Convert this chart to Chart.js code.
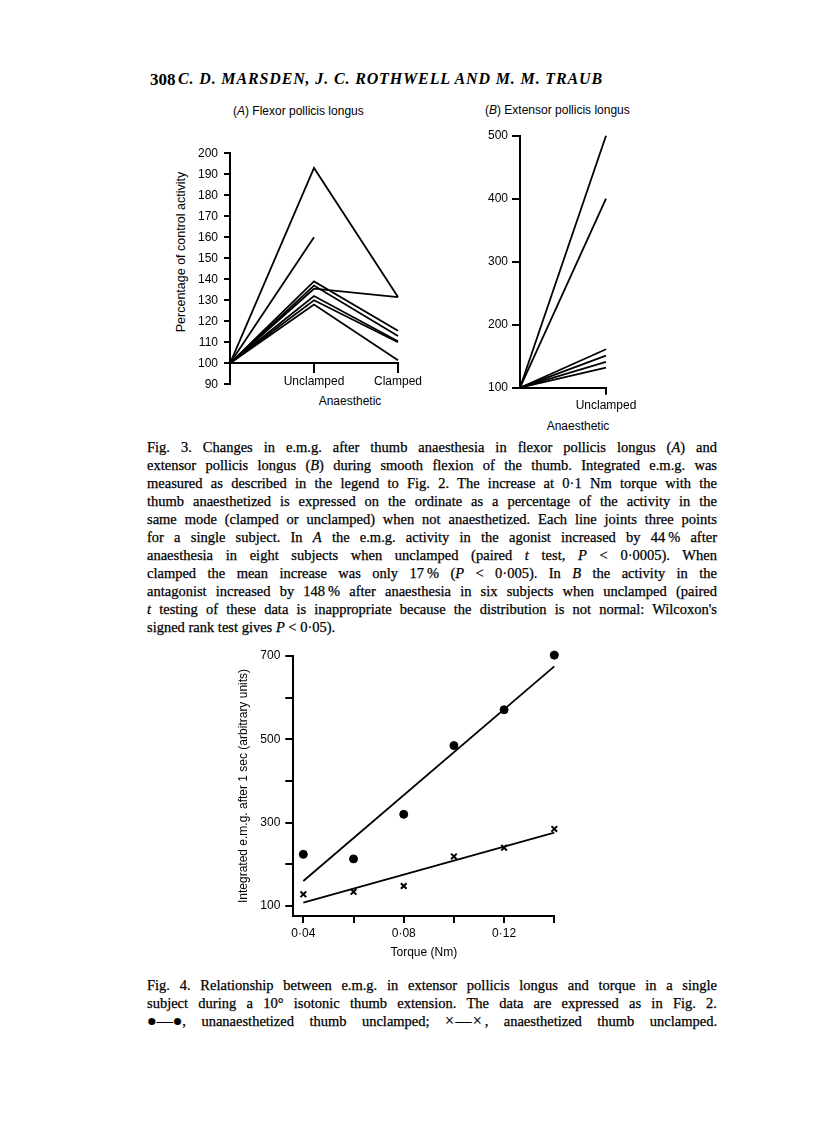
<!DOCTYPE html>
<html>
<head>
<meta charset="utf-8">
<script src="https://cdn.jsdelivr.net/npm/chart.js@4.4.1/dist/chart.umd.min.js"></script>
<style>
    body { margin: 0; width: 816px; height: 1127px; position: relative; overflow: hidden; background: #fff; color: #000; font-family: "Liberation Serif", serif; }
    canvas { position: absolute; }
    .sans { position: absolute; font-family: "Liberation Sans", Arial, sans-serif; font-size: 12px; line-height: 14px; white-space: nowrap; }
    .vlabel { transform: translate(-50%, -50%) rotate(-90deg); }
    .center { transform: translate(-50%, -50%); }
    .cap { position: absolute; left: 147px; width: 570px; font-size: 14.5px; line-height: 18px; -webkit-text-stroke: 0.25px #000; }
    .cap > span { display: inline-block; white-space: nowrap; }
    .sym { font-size: 16px; }
    .head { position: absolute; top: 70px; font-weight: bold; white-space: nowrap; }
</style>
</head>
<body>

<div class="head" style="left:150px; font-size:17px;">308</div>
<div class="head" id="authors" style="left:178px; font-size:16px; font-style:italic;">C. D. MARSDEN, J. C. ROTHWELL AND M. M. TRAUB</div>

<div class="sans" style="left:233px; top:104px;">(<i>A</i>) Flexor pollicis longus</div>
<div class="sans" style="left:485px; top:103px;">(<i>B</i>) Extensor pollicis longus</div>
<div class="sans vlabel" style="left:180.7px; top:251.7px; font-size:12.5px;">Percentage of control activity</div>
<div class="sans center" style="left:350px; top:401px;">Anaesthetic</div>
<div class="sans center" style="left:578px; top:426px;">Anaesthetic</div>

<canvas id="chartA" width="278" height="270" style="left:150px; top:140px;"></canvas>
<canvas id="chartB" width="200" height="300" style="left:450px; top:120px;"></canvas>
<canvas id="chartC" width="360" height="330" style="left:220px; top:640px;"></canvas>

<div class="cap" style="top:438px;">
    <span class="j">Fig. 3. Changes in e.m.g. after thumb anaesthesia in flexor pollicis longus (<i>A</i>) and</span><br>
    <span class="j">extensor pollicis longus (<i>B</i>) during smooth flexion of the thumb. Integrated e.m.g. was</span><br>
    <span class="j">measured as described in the legend to Fig. 2. The increase at 0·1 Nm torque with the</span><br>
    <span class="j">thumb anaesthetized is expressed on the ordinate as a percentage of the activity in the</span><br>
    <span class="j">same mode (clamped or unclamped) when not anaesthetized. Each line joints three points</span><br>
    <span class="j">for a single subject. In <i>A</i> the e.m.g. activity in the agonist increased by 44&#8201;% after</span><br>
    <span class="j">anaesthesia in eight subjects when unclamped (paired <i>t</i> test, <i>P</i> &lt; 0·0005). When</span><br>
    <span class="j">clamped the mean increase was only 17&#8201;% (<i>P</i> &lt; 0·005). In <i>B</i> the activity in the</span><br>
    <span class="j">antagonist increased by 148&#8201;% after anaesthesia in six subjects when unclamped (paired</span><br>
    <span class="j"><i>t</i> testing of these data is inappropriate because the distribution is not normal: Wilcoxon's</span><br>
    <span>signed rank test gives <i>P</i> &lt; 0·05).</span>
</div>

<div class="cap" style="top:976px;">
    <span class="j">Fig. 4. Relationship between e.m.g. in extensor pollicis longus and torque in a single</span><br>
    <span class="j">subject during a 10° isotonic thumb extension. The data are expressed as in Fig. 2.</span><br>
    <span class="j"><span class="sym">●—●</span>, unanaesthetized thumb unclamped; <span class="sym">×&#8202;—&#8202;×</span>&#8201;, anaesthetized thumb unclamped.</span>
</div>

<script>
// Fig. 3A - flexor pollicis longus, % of control
const controlLevel = 100;
const flexorCategories = ["", "Unclamped", "Clamped"];
const flexorUnclamped = [193, 160, 139, 137, 135.5, 132, 130, 128];
const flexorClamped = [131.5, null, 115.5, 113, 131.5, 110.5, 110, 101.5];

// Fig. 3B - extensor pollicis longus, % of control
const extensorCategories = ["", "Unclamped"];
const extensorUnclamped = [500, 400, 161, 151, 141, 132];

// Fig. 4 - integrated emg vs torque
const torque = [0.04, 0.06, 0.08, 0.10, 0.12, 0.14];
const torqueTickLabels = ["0·04", "", "0·08", "", "0·12", ""];
const emgUnanaesthetized = [224, 213, 320, 485, 571, 702];
const emgAnaesthetized = [128, 134, 148, 219, 240, 285];
const fitTorque = [0.04, 0.14];
const fitUnanaesthetized = [160, 675];
const fitAnaesthetized = [108, 276];
const emgTicks = [100, 200, 300, 400, 500, 600, 700];
const emgTickLabels = ["100", "", "300", "", "500", "", "700"];

Chart.defaults.font.family = '"Liberation Sans", Arial, sans-serif';
Chart.defaults.font.size = 12;
Chart.defaults.color = "#000";

function axisLook(tickLength, padding) {
    return {
        border: { color: "#000", width: 2 },
        grid: { drawOnChartArea: false, drawTicks: true, tickLength: tickLength, color: "#000", lineWidth: 2 },
        ticks: { color: "#000", padding: padding, autoSkip: false, maxRotation: 0 }
    };
}

const baseOptions = {
    responsive: false,
    animation: false,
    plugins: { legend: { display: false }, tooltip: { enabled: false } },
    elements: { line: { borderColor: "#000", borderWidth: 1.8, tension: 0 }, point: { radius: 0 } }
};

// A
new Chart(document.getElementById("chartA"), {
    type: "line",
    data: {
        datasets: flexorUnclamped.map((u, i) => ({
            data: [{ x: 0, y: controlLevel }, { x: 1, y: u }, { x: 2, y: flexorClamped[i] }],
            clip: false
        }))
    },
    options: {
        ...baseOptions,
        layout: { padding: { left: 0, right: 30, top: 12.7, bottom: 25.7 } },
        scales: {
            x: {
                ...axisLook(9, 2),
                type: "linear", min: 0, max: 2,
                position: { y: controlLevel },
                afterFit: s => { s.height = 0; },
                afterBuildTicks: s => { s.ticks = [{ value: 1 }, { value: 2 }]; },
                ticks: { ...axisLook(9, 2).ticks, callback: v => flexorCategories[v] }
            },
            y: {
                ...axisLook(6, 6),
                min: 90, max: 200,
                afterFit: s => { s.width = 80; },
                ticks: { ...axisLook(6, 6).ticks, stepSize: 10 }
            }
        }
    }
});

// B
new Chart(document.getElementById("chartB"), {
    type: "line",
    data: {
        datasets: extensorUnclamped.map(u => ({
            data: [{ x: 0, y: controlLevel }, { x: 1, y: u }],
            clip: false
        }))
    },
    options: {
        ...baseOptions,
        layout: { padding: { left: 0, right: 44, top: 15.7, bottom: 2.3 } },
        scales: {
            x: {
                ...axisLook(7, 4),
                type: "linear", min: 0, max: 1,
                afterFit: s => { s.height = 30; },
                afterBuildTicks: s => { s.ticks = [{ value: 1 }]; },
                ticks: { ...axisLook(7, 4).ticks, callback: v => extensorCategories[v] }
            },
            y: {
                ...axisLook(8, 4),
                min: 100, max: 500,
                afterFit: s => { s.width = 70; },
                ticks: { ...axisLook(8, 4).ticks, stepSize: 100 }
            }
        }
    }
});

// C
const pts = (xs, ys) => xs.map((x, i) => ({ x: x, y: ys[i] }));
new Chart(document.getElementById("chartC"), {
    type: "line",
    data: {
        datasets: [
            { data: pts(fitTorque, fitUnanaesthetized), clip: false },
            { data: pts(fitTorque, fitAnaesthetized), clip: false },
            { data: pts(torque, emgUnanaesthetized), showLine: false, pointStyle: "circle", pointRadius: 4, pointBackgroundColor: "#000", pointBorderColor: "#000", clip: false },
            { data: pts(torque, emgAnaesthetized), showLine: false, pointStyle: "crossRot", pointRadius: 4, pointBorderColor: "#000", pointBorderWidth: 2, clip: false }
        ]
    },
    options: {
        ...baseOptions,
        layout: { padding: { left: 0, right: 25.7, top: 16, bottom: 9 } },
        scales: {
            x: {
                ...axisLook(7, 3),
                type: "linear", min: 0.036, max: 0.14,
                afterFit: s => { s.height = 45; },
                afterBuildTicks: s => { s.ticks = torque.map(v => ({ value: v })); },
                ticks: { ...axisLook(7, 3).ticks, callback: (v, i) => torqueTickLabels[i] },
                title: { display: true, text: "Torque (Nm)", padding: { top: 0, bottom: 0.8 } }
            },
            y: {
                ...axisLook(8, 5),
                min: 76, max: 700,
                afterFit: s => { s.width = 73.3; },
                afterBuildTicks: s => { s.ticks = emgTicks.map(v => ({ value: v })); },
                ticks: { ...axisLook(8, 5).ticks, callback: (v, i) => emgTickLabels[i] },
                title: { display: true, text: "Integrated e.m.g. after 1 sec (arbitrary units)", padding: { top: 16, bottom: 0 } }
            }
        }
    }
});

// justify caption lines by hand so the breaks match the page
document.querySelectorAll(".cap > span.j").forEach(el => {
    const natural = el.getBoundingClientRect().width;
    const spaces = (el.textContent.match(/ /g) || []).length;
    if (spaces) el.style.wordSpacing = ((570 - natural) / spaces) + "px";
});
const authors = document.getElementById("authors");
const aw = authors.getBoundingClientRect().width;
authors.style.letterSpacing = ((425 - aw) / authors.textContent.length) + "px";
</script>
</body>
</html>
